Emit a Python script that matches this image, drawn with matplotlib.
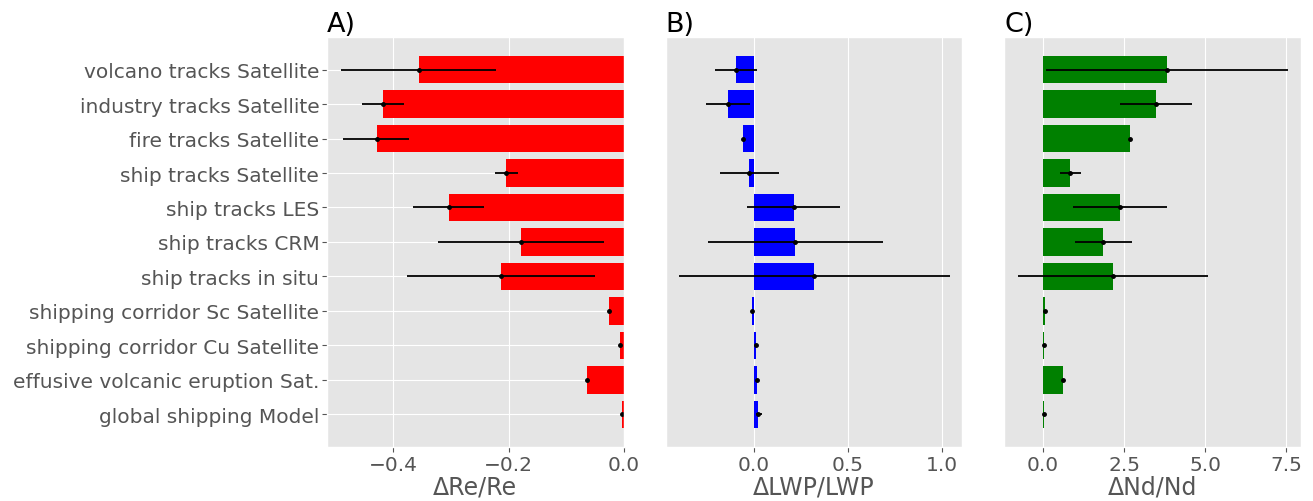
import numpy as np
import matplotlib
matplotlib.use("Agg")
import matplotlib.pyplot as plt

plt.style.use("ggplot")

categories = ["volcano tracks Satellite", "industry tracks Satellite", "fire tracks Satellite",
              "ship tracks Satellite", "ship tracks LES", "ship tracks CRM", "ship tracks in situ",
              "shipping corridor Sc Satellite", "shipping corridor Cu Satellite",
              "effusive volcanic eruption Sat.", "global shipping Model"]

# mean and error-bar ends (low, high) for each panel
re_mean = [-0.356, -0.418, -0.429, -0.204, -0.303, -0.179, -0.213, -0.025, -0.006, -0.064, -0.003]
re_low = [-0.491, -0.454, -0.487, -0.224, -0.365, -0.323, -0.376, -0.025, -0.006, -0.064, -0.003]
re_high = [-0.221, -0.382, -0.372, -0.184, -0.242, -0.035, -0.050, -0.025, -0.006, -0.064, -0.003]

lwp_mean = [-0.096, -0.138, -0.060, -0.028, 0.210, 0.220, 0.320, -0.012, 0.009, 0.018, 0.023]
lwp_low = [-0.206, -0.257, -0.060, -0.183, -0.039, -0.247, -0.400, -0.012, 0.009, 0.018, 0.012]
lwp_high = [0.014, -0.021, -0.060, 0.130, 0.458, 0.687, 1.039, -0.012, 0.009, 0.018, 0.041]

nd_mean = [3.82, 3.47, 2.69, 0.84, 2.36, 1.86, 2.16, 0.06, 0.02, 0.61, 0.04]
nd_low = [0.08, 2.38, 2.69, 0.52, 0.92, 0.99, -0.77, 0.06, 0.02, 0.61, 0.04]
nd_high = [7.55, 4.58, 2.69, 1.17, 3.81, 2.74, 5.10, 0.06, 0.02, 0.61, 0.04]

panels = [
    ("A)", "ΔRe/Re", re_mean, re_low, re_high, "red", (-0.515, 0.0)),
    ("B)", "ΔLWP/LWP", lwp_mean, lwp_low, lwp_high, "blue", (-0.47, 1.108)),
    ("C)", "ΔNd/Nd", nd_mean, nd_low, nd_high, "green", (-1.19, 7.96)),
]

fig, axes = plt.subplots(1, 3, figsize=(13.13, 5.02), dpi=100)
fig.subplots_adjust(left=0.249, right=0.991, top=0.924, bottom=0.108, wspace=0.141)

y = np.arange(len(categories))
for i, (ax, (title, xlabel, mean, lo, hi, col, xlim)) in enumerate(zip(axes, panels)):
    mean = np.array(mean)
    err = [mean - np.array(lo), np.array(hi) - mean]
    ax.barh(y, mean, height=0.8, color=col)
    ax.errorbar(mean, y, xerr=err, fmt=".", color="k", ms=5, lw=1.3)
    ax.set_xlim(*xlim)
    ax.invert_yaxis()
    ax.set_title(title, loc="left", fontsize=19.5, color="k", pad=4)
    ax.set_xlabel(xlabel, fontsize=17, color="#555555", labelpad=0)
    ax.tick_params(axis="x", labelsize=14.5, pad=2.5)
    if i == 0:
        ax.set_yticks(y)
        ax.set_yticklabels(categories, fontsize=14.5)
        ax.tick_params(axis="y", pad=2)
    else:
        ax.set_yticks([])

axes[0].set_xticks([-0.4, -0.2, 0.0])
axes[1].set_xticks([0.0, 0.5, 1.0])
axes[2].set_xticks([0.0, 2.5, 5.0, 7.5])

fig.savefig("out.png", dpi=100)
